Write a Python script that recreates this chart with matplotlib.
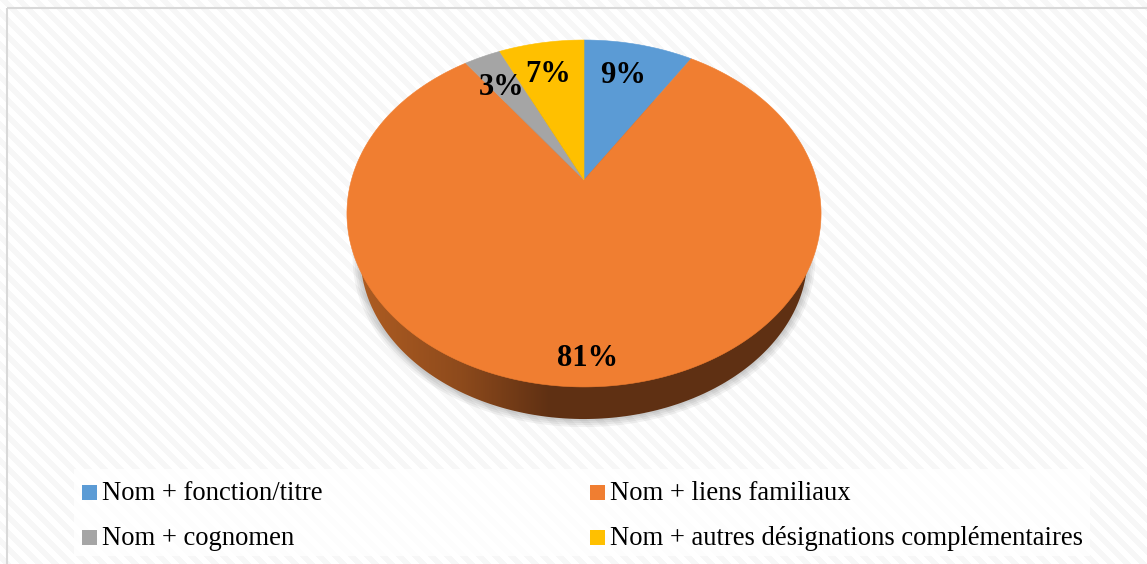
import matplotlib
matplotlib.use("Agg")
import matplotlib.pyplot as plt
import numpy as np
from matplotlib.colors import LinearSegmentedColormap
from matplotlib.patches import Polygon, Rectangle

categories = [
    "Nom + fonction/titre",
    "Nom + liens familiaux",
    "Nom + cognomen",
    "Nom + autres désignations complémentaires",
]
values = [9, 81, 3, 7]
labels = ["9%", "81%", "3%", "7%"]
colors = ["#5B9BD5", "#F07E31", "#A5A5A5", "#FFC000"]

W, H = 1147, 564
CX, CY = 584, 180  # where the slices meet
A, B, K = 232.6, 167.0, 0.193  # tilted disc
BASE_R, BASE_DROP = 0.945, 46  # lower rim is a bit narrower, seen in perspective

plt.rcParams["font.family"] = ["Liberation Serif", "DejaVu Serif"]


def project(angle, r=1.0):
    # angle is clockwise from 12 o'clock, r is radius on the disc
    px = r * np.sin(angle)
    py = r * np.cos(angle)
    d = 1 + K * py
    return CX + A * px / d, CY - B * py / d


fig = plt.figure(figsize=(W / 100, H / 100), dpi=100)
ax = fig.add_axes([0, 0, 1, 1])
ax.set_xlim(0, W)
ax.set_ylim(H, 0)
ax.axis("off")

# striped background
yy, xx = np.mgrid[0:H, 0:W]
stripes = np.where((xx - yy) % 16 < 8, 0.965, 1.0)
ax.imshow(stripes, cmap="gray", vmin=0, vmax=1, extent=(0, W, H, 0), aspect="auto",
          interpolation="bilinear", zorder=0)
ax.add_patch(Rectangle((7, 8), W, H, fill=False, edgecolor="#d9d9d9", linewidth=1.5, zorder=1))

# soft shadow under the pie
t = np.linspace(0, 2 * np.pi, 361)
for grow in [0.032, 0.024, 0.016, 0.008]:
    ex, ey = project(t, BASE_R + grow)
    ax.add_patch(Polygon(np.column_stack([ex, ey + BASE_DROP]), closed=True, facecolor="#000000",
                         edgecolor="none", alpha=0.05, zorder=2))

# side wall: whole lower disc, the top slices cover most of it
sx, sy = project(t, BASE_R)
wall = Polygon(np.column_stack([sx, sy + BASE_DROP]), closed=True, facecolor="none", edgecolor="none", zorder=3)
ax.add_patch(wall)
grad = np.interp(np.arange(W), [362, 460, 550, 821], [0.0, 0.4, 1.0, 1.0]).reshape(1, -1)
cmap = LinearSegmentedColormap.from_list("wall", ["#AD5C22", "#5F3013"])
im = ax.imshow(grad, cmap=cmap, vmin=0, vmax=1, extent=(0, W, H, 0), aspect="auto", zorder=3)
im.set_clip_path(wall)

# slices
total = sum(values)
start = 0.0
for value, color in zip(values, colors):
    stop = start + value / total * 2 * np.pi
    arc = np.linspace(start, stop, max(int(value * 6), 12))
    ax_x, ax_y = project(arc)
    pts = np.vstack([[CX, CY], np.column_stack([ax_x, ax_y])])
    ax.add_patch(Polygon(pts, closed=True, facecolor=color, edgecolor=color, linewidth=0.4, zorder=4))
    start = stop

# value labels, placed by hand as in the original
label_pos = [(623, 83), (587.5, 366), (502, 95), (548, 82)]
for label, (lx, ly) in zip(labels, label_pos):
    ax.text(lx, ly, label, fontsize=22, fontweight="bold", ha="center", va="baseline", color="black", zorder=5)

# legend
ax.add_patch(Rectangle((74, 469), 1016, 87, facecolor="white", edgecolor="none", alpha=0.8, zorder=4))
legend_pos = [(82, 500), (590, 500), (82, 545), (590, 545)]
for name, color, (lx, ly) in zip(categories, colors, legend_pos):
    ax.add_patch(Rectangle((lx, ly - 15), 15, 15, facecolor=color, edgecolor="none", zorder=5))
    ax.text(lx + 20, ly, name, fontsize=19.2, ha="left", va="baseline", color="black", zorder=5)

fig.savefig("out.png", dpi=100)
plt.close(fig)
